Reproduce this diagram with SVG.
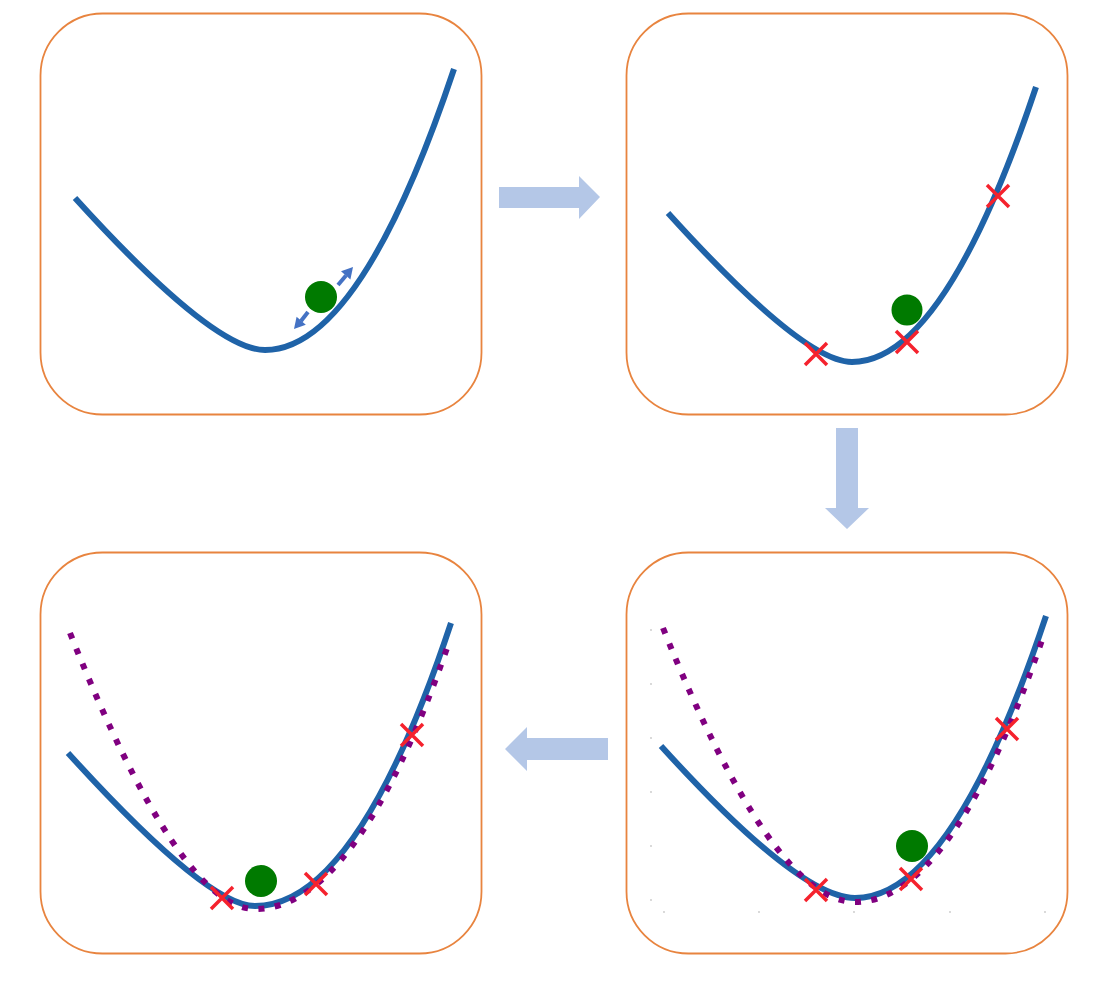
<svg xmlns="http://www.w3.org/2000/svg" width="1096" height="987" viewBox="0 0 1096 987">
<defs>
<style>
.panel{fill:#fff;stroke:#E8843F;stroke-width:1.8}
.curve{fill:none;stroke:#1F63A8;stroke-width:6;stroke-linecap:butt}
.dot{fill:none;stroke:#800080;stroke-width:6;stroke-dasharray:6 10.5}
.ball{fill:#007A00}
.x{stroke:#F5222D;stroke-width:3.5;fill:none}
.flow{fill:#B4C7E7}
.dbl{stroke:#4472C4;stroke-width:4;fill:none}
.dblh{fill:#4472C4}
.tick{fill:#c8c8c8}
</style>
</defs>
<rect width="1096" height="987" fill="#fff"/>

<g id="panel1">
<rect class="panel" x="40.5" y="13.5" width="441" height="401" rx="62"/>
<path class="curve" d="M75,198 Q213,350 265,350 Q360,350 454,69"/>
<circle class="ball" cx="321" cy="297" r="16"/>
<path class="dbl" d="M338,285 L346,275.5"/>
<polygon class="dblh" points="353,267 350.4,279.4 341,271.2"/>
<path class="dbl" d="M308,312 L301,321"/>
<polygon class="dblh" points="294,329 305.8,324.8 296.6,316.7"/>
</g>

<g id="panel2">
<rect class="panel" x="626.5" y="13.5" width="441" height="401" rx="62"/>
<path class="curve" d="M668,213 Q803,362 852,362 Q944,362 1036,87"/>
<circle class="ball" cx="907" cy="310" r="15.5"/>
<path class="x" d="M805,343 L827,365 M827,343 L805,365"/>
<path class="x" d="M896,331 L918,353 M918,331 L896,353"/>
<path class="x" d="M987,185 L1009,207 M1009,185 L987,207"/>
</g>

<g id="panel3">
<rect class="panel" x="626.5" y="552.5" width="441" height="401" rx="62"/>
<g class="tick">
<circle cx="651" cy="630" r="0.9"/><circle cx="651" cy="684" r="0.9"/><circle cx="651" cy="738" r="0.9"/><circle cx="651" cy="792" r="0.9"/><circle cx="651" cy="846" r="0.9"/><circle cx="651" cy="900" r="0.9"/>
<circle cx="664" cy="912" r="0.9"/><circle cx="759" cy="912" r="0.9"/><circle cx="854" cy="912" r="0.9"/><circle cx="950" cy="912" r="0.9"/><circle cx="1045" cy="912" r="0.9"/>
</g>
<path class="curve" d="M661,746 Q799,898 855,898 Q952,898 1046,616"/>
<path class="dot" d="M663,628 Q773,902 855,902 Q952,902 1043,637"/>
<circle class="ball" cx="912" cy="846" r="16"/>
<path class="x" d="M805,879 L827,901 M827,879 L805,901"/>
<path class="x" d="M900,868 L922,890 M922,868 L900,890"/>
<path class="x" d="M996,718 L1018,740 M1018,718 L996,740"/>
</g>

<g id="panel4">
<rect class="panel" x="40.5" y="552.5" width="441" height="401" rx="62"/>
<path class="curve" d="M68,753 Q207,906 255,906 Q357,906 451,623"/>
<path class="dot" d="M70,633 Q180,909 255,909 Q357,909 448,645"/>
<circle class="ball" cx="261" cy="881" r="16"/>
<path class="x" d="M211,887 L233,909 M233,887 L211,909"/>
<path class="x" d="M305,873 L327,895 M327,873 L305,895"/>
<path class="x" d="M401,724 L423,746 M423,724 L401,746"/>
</g>

<g id="connectors">
<path class="flow" d="M499,187 L579,187 L579,176 L600,197 L579,219 L579,208 L499,208 z"/>
<path class="flow" d="M836,428 L858,428 L858,508 L869,508 L847,529 L825,508 L836,508 z"/>
<path class="flow" d="M608,738 L527,738 L527,727 L505,749 L527,771 L527,760 L608,760 z"/>
</g>
</svg>
